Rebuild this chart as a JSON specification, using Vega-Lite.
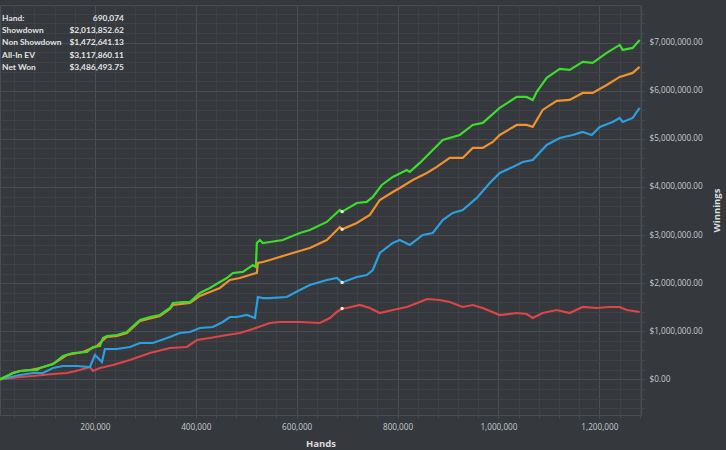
{
  "$schema": "https://vega.github.io/schema/vega-lite/v6.json",
  "width": 641,
  "height": 410,
  "autosize": "none",
  "padding": {"left": 0, "top": 5, "right": 85, "bottom": 35},
  "background": "#35383c",
  "config": {"view": {"stroke": "#4a4d51", "strokeWidth": 1}, "font": "Open Sans"},
  "datasets": {
    "curves": [
      {"series":"Non Showdown","hands":12000,"won":0},{"series":"Non Showdown","hands":51500,"won":48000},{"series":"Non Showdown","hands":77300,"won":69000},{"series":"Non Showdown","hands":116900,"won":110000},{"series":"Non Showdown","hands":144600,"won":131000},{"series":"Non Showdown","hands":170400,"won":193000},{"series":"Non Showdown","hands":190200,"won":256000},{"series":"Non Showdown","hands":196200,"won":173000},{"series":"Non Showdown","hands":210000,"won":235000},{"series":"Non Showdown","hands":235800,"won":297000},{"series":"Non Showdown","hands":269500,"won":401000},{"series":"Non Showdown","hands":309100,"won":547000},{"series":"Non Showdown","hands":348700,"won":651000},{"series":"Non Showdown","hands":382400,"won":672000},{"series":"Non Showdown","hands":402200,"won":817000},{"series":"Non Showdown","hands":428000,"won":859000},{"series":"Non Showdown","hands":461700,"won":921000},{"series":"Non Showdown","hands":487400,"won":963000},{"series":"Non Showdown","hands":513200,"won":1046000},{"series":"Non Showdown","hands":546900,"won":1171000},{"series":"Non Showdown","hands":566700,"won":1192000},{"series":"Non Showdown","hands":606300,"won":1192000},{"series":"Non Showdown","hands":645900,"won":1171000},{"series":"Non Showdown","hands":665800,"won":1275000},{"series":"Non Showdown","hands":679600,"won":1400000},{"series":"Non Showdown","hands":690074,"won":1472641},{"series":"Non Showdown","hands":699400,"won":1483000},{"series":"Non Showdown","hands":725200,"won":1545000},{"series":"Non Showdown","hands":745000,"won":1483000},{"series":"Non Showdown","hands":764800,"won":1379000},{"series":"Non Showdown","hands":790600,"won":1441000},{"series":"Non Showdown","hands":818300,"won":1504000},{"series":"Non Showdown","hands":844100,"won":1607000},{"series":"Non Showdown","hands":858000,"won":1670000},{"series":"Non Showdown","hands":883700,"won":1649000},{"series":"Non Showdown","hands":903500,"won":1607000},{"series":"Non Showdown","hands":929200,"won":1504000},{"series":"Non Showdown","hands":949000,"won":1545000},{"series":"Non Showdown","hands":968900,"won":1483000},{"series":"Non Showdown","hands":1002600,"won":1337000},{"series":"Non Showdown","hands":1036300,"won":1379000},{"series":"Non Showdown","hands":1056100,"won":1358000},{"series":"Non Showdown","hands":1068000,"won":1275000},{"series":"Non Showdown","hands":1087800,"won":1379000},{"series":"Non Showdown","hands":1115500,"won":1441000},{"series":"Non Showdown","hands":1141300,"won":1379000},{"series":"Non Showdown","hands":1167000,"won":1504000},{"series":"Non Showdown","hands":1194700,"won":1483000},{"series":"Non Showdown","hands":1220500,"won":1504000},{"series":"Non Showdown","hands":1240400,"won":1504000},{"series":"Non Showdown","hands":1254200,"won":1441000},{"series":"Non Showdown","hands":1280000,"won":1400000},

      {"series":"Showdown","hands":12000,"won":0},{"series":"Showdown","hands":51500,"won":89000},{"series":"Showdown","hands":77300,"won":131000},{"series":"Showdown","hands":97100,"won":131000},{"series":"Showdown","hands":116900,"won":235000},{"series":"Showdown","hands":136700,"won":277000},{"series":"Showdown","hands":164500,"won":277000},{"series":"Showdown","hands":190200,"won":256000},{"series":"Showdown","hands":200100,"won":505000},{"series":"Showdown","hands":214000,"won":360000},{"series":"Showdown","hands":219900,"won":630000},{"series":"Showdown","hands":243700,"won":630000},{"series":"Showdown","hands":269500,"won":672000},{"series":"Showdown","hands":289300,"won":755000},{"series":"Showdown","hands":315000,"won":755000},{"series":"Showdown","hands":348700,"won":880000},{"series":"Showdown","hands":368500,"won":963000},{"series":"Showdown","hands":388400,"won":984000},{"series":"Showdown","hands":408200,"won":1067000},{"series":"Showdown","hands":433900,"won":1088000},{"series":"Showdown","hands":453700,"won":1192000},{"series":"Showdown","hands":467600,"won":1296000},{"series":"Showdown","hands":481500,"won":1296000},{"series":"Showdown","hands":501300,"won":1337000},{"series":"Showdown","hands":517200,"won":1275000},{"series":"Showdown","hands":523100,"won":1711000},{"series":"Showdown","hands":533000,"won":1690000},{"series":"Showdown","hands":546900,"won":1690000},{"series":"Showdown","hands":580500,"won":1711000},{"series":"Showdown","hands":606300,"won":1857000},{"series":"Showdown","hands":626100,"won":1961000},{"series":"Showdown","hands":659800,"won":2065000},{"series":"Showdown","hands":679600,"won":2107000},{"series":"Showdown","hands":690074,"won":2013853},{"series":"Showdown","hands":719200,"won":2128000},{"series":"Showdown","hands":739000,"won":2169000},{"series":"Showdown","hands":751000,"won":2273000},{"series":"Showdown","hands":764800,"won":2627000},{"series":"Showdown","hands":790600,"won":2835000},{"series":"Showdown","hands":804400,"won":2897000},{"series":"Showdown","hands":824300,"won":2793000},{"series":"Showdown","hands":850000,"won":3001000},{"series":"Showdown","hands":869800,"won":3043000},{"series":"Showdown","hands":889600,"won":3313000},{"series":"Showdown","hands":909400,"won":3459000},{"series":"Showdown","hands":929200,"won":3521000},{"series":"Showdown","hands":957000,"won":3771000},{"series":"Showdown","hands":982800,"won":4083000},{"series":"Showdown","hands":1002600,"won":4291000},{"series":"Showdown","hands":1028400,"won":4416000},{"series":"Showdown","hands":1048200,"won":4520000},{"series":"Showdown","hands":1068000,"won":4561000},{"series":"Showdown","hands":1095700,"won":4873000},{"series":"Showdown","hands":1121500,"won":5019000},{"series":"Showdown","hands":1147200,"won":5081000},{"series":"Showdown","hands":1167000,"won":5144000},{"series":"Showdown","hands":1184900,"won":5081000},{"series":"Showdown","hands":1200700,"won":5248000},{"series":"Showdown","hands":1226500,"won":5352000},{"series":"Showdown","hands":1240400,"won":5435000},{"series":"Showdown","hands":1246300,"won":5352000},{"series":"Showdown","hands":1266100,"won":5435000},{"series":"Showdown","hands":1280000,"won":5643000},

      {"series":"All-In EV","hands":12000,"won":0},{"series":"All-In EV","hands":25800,"won":69000},{"series":"All-In EV","hands":37600,"won":131000},{"series":"All-In EV","hands":51500,"won":173000},{"series":"All-In EV","hands":71300,"won":193000},{"series":"All-In EV","hands":91100,"won":235000},{"series":"All-In EV","hands":116900,"won":318000},{"series":"All-In EV","hands":144600,"won":505000},{"series":"All-In EV","hands":176300,"won":568000},{"series":"All-In EV","hands":204100,"won":693000},{"series":"All-In EV","hands":216000,"won":817000},{"series":"All-In EV","hands":223900,"won":880000},{"series":"All-In EV","hands":243700,"won":900000},{"series":"All-In EV","hands":263500,"won":963000},{"series":"All-In EV","hands":289300,"won":1212000},{"series":"All-In EV","hands":328900,"won":1316000},{"series":"All-In EV","hands":348700,"won":1462000},{"series":"All-In EV","hands":354700,"won":1545000},{"series":"All-In EV","hands":388400,"won":1587000},{"series":"All-In EV","hands":408200,"won":1733000},{"series":"All-In EV","hands":428000,"won":1815000},{"series":"All-In EV","hands":447800,"won":1899000},{"series":"All-In EV","hands":467600,"won":2065000},{"series":"All-In EV","hands":487400,"won":2107000},{"series":"All-In EV","hands":513200,"won":2190000},{"series":"All-In EV","hands":521100,"won":2211000},{"series":"All-In EV","hands":523100,"won":2419000},{"series":"All-In EV","hands":533000,"won":2440000},{"series":"All-In EV","hands":546900,"won":2481000},{"series":"All-In EV","hands":592400,"won":2627000},{"series":"All-In EV","hands":626100,"won":2731000},{"series":"All-In EV","hands":659800,"won":2897000},{"series":"All-In EV","hands":685600,"won":3167000},{"series":"All-In EV","hands":690074,"won":3117860},{"series":"All-In EV","hands":719200,"won":3251000},{"series":"All-In EV","hands":745000,"won":3417000},{"series":"All-In EV","hands":764800,"won":3729000},{"series":"All-In EV","hands":790600,"won":3896000},{"series":"All-In EV","hands":804400,"won":3979000},{"series":"All-In EV","hands":830200,"won":4145000},{"series":"All-In EV","hands":858000,"won":4291000},{"series":"All-In EV","hands":877700,"won":4416000},{"series":"All-In EV","hands":903500,"won":4603000},{"series":"All-In EV","hands":929200,"won":4603000},{"series":"All-In EV","hands":949000,"won":4811000},{"series":"All-In EV","hands":968900,"won":4811000},{"series":"All-In EV","hands":988700,"won":4936000},{"series":"All-In EV","hands":1002600,"won":5081000},{"series":"All-In EV","hands":1036300,"won":5289000},{"series":"All-In EV","hands":1056100,"won":5289000},{"series":"All-In EV","hands":1068000,"won":5248000},{"series":"All-In EV","hands":1087800,"won":5601000},{"series":"All-In EV","hands":1115500,"won":5789000},{"series":"All-In EV","hands":1141300,"won":5809000},{"series":"All-In EV","hands":1167000,"won":5955000},{"series":"All-In EV","hands":1186800,"won":5955000},{"series":"All-In EV","hands":1214600,"won":6121000},{"series":"All-In EV","hands":1240400,"won":6288000},{"series":"All-In EV","hands":1266100,"won":6371000},{"series":"All-In EV","hands":1280000,"won":6496000},

      {"series":"Net Won","hands":12000,"won":0},{"series":"Net Won","hands":25800,"won":69000},{"series":"Net Won","hands":37600,"won":131000},{"series":"Net Won","hands":51500,"won":173000},{"series":"Net Won","hands":71300,"won":193000},{"series":"Net Won","hands":85200,"won":193000},{"series":"Net Won","hands":91100,"won":235000},{"series":"Net Won","hands":116900,"won":318000},{"series":"Net Won","hands":136700,"won":484000},{"series":"Net Won","hands":156500,"won":547000},{"series":"Net Won","hands":184300,"won":568000},{"series":"Net Won","hands":196200,"won":672000},{"series":"Net Won","hands":210000,"won":693000},{"series":"Net Won","hands":216000,"won":859000},{"series":"Net Won","hands":223900,"won":900000},{"series":"Net Won","hands":243700,"won":921000},{"series":"Net Won","hands":263500,"won":984000},{"series":"Net Won","hands":269500,"won":1046000},{"series":"Net Won","hands":289300,"won":1233000},{"series":"Net Won","hands":309100,"won":1296000},{"series":"Net Won","hands":328900,"won":1337000},{"series":"Net Won","hands":348700,"won":1483000},{"series":"Net Won","hands":354700,"won":1587000},{"series":"Net Won","hands":374500,"won":1607000},{"series":"Net Won","hands":388400,"won":1607000},{"series":"Net Won","hands":408200,"won":1795000},{"series":"Net Won","hands":428000,"won":1899000},{"series":"Net Won","hands":447800,"won":2024000},{"series":"Net Won","hands":461700,"won":2107000},{"series":"Net Won","hands":473600,"won":2211000},{"series":"Net Won","hands":493400,"won":2232000},{"series":"Net Won","hands":513200,"won":2377000},{"series":"Net Won","hands":519100,"won":2336000},{"series":"Net Won","hands":521100,"won":2835000},{"series":"Net Won","hands":527100,"won":2897000},{"series":"Net Won","hands":533000,"won":2835000},{"series":"Net Won","hands":546900,"won":2855000},{"series":"Net Won","hands":572600,"won":2897000},{"series":"Net Won","hands":606300,"won":3043000},{"series":"Net Won","hands":626100,"won":3105000},{"series":"Net Won","hands":659800,"won":3272000},{"series":"Net Won","hands":685600,"won":3521000},{"series":"Net Won","hands":690074,"won":3486494},{"series":"Net Won","hands":719200,"won":3667000},{"series":"Net Won","hands":739000,"won":3688000},{"series":"Net Won","hands":751000,"won":3792000},{"series":"Net Won","hands":768800,"won":4041000},{"series":"Net Won","hands":790600,"won":4208000},{"series":"Net Won","hands":818300,"won":4353000},{"series":"Net Won","hands":824300,"won":4312000},{"series":"Net Won","hands":844100,"won":4499000},{"series":"Net Won","hands":863900,"won":4707000},{"series":"Net Won","hands":889600,"won":4977000},{"series":"Net Won","hands":923300,"won":5081000},{"series":"Net Won","hands":949000,"won":5289000},{"series":"Net Won","hands":968900,"won":5331000},{"series":"Net Won","hands":1002600,"won":5643000},{"series":"Net Won","hands":1036300,"won":5872000},{"series":"Net Won","hands":1056100,"won":5872000},{"series":"Net Won","hands":1068000,"won":5809000},{"series":"Net Won","hands":1075900,"won":5976000},{"series":"Net Won","hands":1095700,"won":6267000},{"series":"Net Won","hands":1121500,"won":6454000},{"series":"Net Won","hands":1141300,"won":6433000},{"series":"Net Won","hands":1167000,"won":6600000},{"series":"Net Won","hands":1186800,"won":6579000},{"series":"Net Won","hands":1214600,"won":6787000},{"series":"Net Won","hands":1240400,"won":6953000},{"series":"Net Won","hands":1246300,"won":6849000},{"series":"Net Won","hands":1266100,"won":6891000},{"series":"Net Won","hands":1280000,"won":7057000}
    ],
    "hover": [
      {"series":"Net Won","hands":690074,"won":3486493.75},
      {"series":"All-In EV","hands":690074,"won":3117860.11},
      {"series":"Showdown","hands":690074,"won":2013852.62},
      {"series":"Non Showdown","hands":690074,"won":1472641.13}
    ],
    "tip": [
      {"column":"label","lines":["Hand:","Showdown","Non Showdown","All-In EV","Net Won"]},
      {"column":"value","lines":["690,074","$2,013,852.62","$1,472,641.13","$3,117,860.11","$3,486,493.75"]}
    ]
  },
  "layer": [
    {
      "data": {"name": "curves"},
      "mark": {"type": "line", "strokeWidth": 2.2, "clip": true},
      "encoding": {
        "x": {"field": "hands", "type": "quantitative",
          "scale": {"domain": [11900, 1282600], "nice": false, "zero": false},
          "axis": {"orient": "bottom", "title": null, "labels": false, "domain": false, "ticks": true, "tickSize": 3, "tickColor": "#46494d",
            "grid": true, "gridColor": "#3e4145", "gridWidth": 1,
            "values": [40000,80000,120000,160000,200000,240000,280000,320000,360000,400000,440000,480000,520000,560000,600000,640000,680000,720000,760000,800000,840000,880000,920000,960000,1000000,1040000,1080000,1120000,1160000,1200000,1240000,1280000]}},
        "y": {"field": "won", "type": "quantitative",
          "scale": {"domain": [-742000, 7783000], "nice": false, "zero": false},
          "axis": {"orient": "right", "title": null, "labels": false, "domain": false, "ticks": true, "tickSize": 3, "tickColor": "#46494d",
            "grid": true, "gridColor": "#3e4145", "gridWidth": 1,
            "values": [-600000,-400000,-200000,0,200000,400000,600000,800000,1000000,1200000,1400000,1600000,1800000,2000000,2200000,2400000,2600000,2800000,3000000,3200000,3400000,3600000,3800000,4000000,4200000,4400000,4600000,4800000,5000000,5200000,5400000,5600000,5800000,6000000,6200000,6400000,6600000,6800000,7000000,7200000,7400000,7600000]}},
        "color": {"field": "series", "type": "nominal",
          "scale": {"domain": ["Net Won", "All-In EV", "Showdown", "Non Showdown"], "range": ["#3ddc2e", "#f0922e", "#2c9fe0", "#dc4549"]},
          "legend": null}
      }
    },
    {
      "mark": {"type": "rule", "color": "#e6e6e6", "strokeWidth": 3},
      "encoding": {"y": {"datum": 0, "type": "quantitative", "axis": null}}
    },
    {
      "data": {"name": "hover"},
      "mark": {"type": "point", "filled": true, "size": 12, "color": "#f4ead6", "opacity": 1},
      "encoding": {
        "x": {"field": "hands", "type": "quantitative",
          "axis": {"orient": "bottom", "title": "Hands", "format": ",d", "values": [200000,400000,600000,800000,1000000,1200000],
            "labelColor": "#c9cbcd", "labelFontSize": 8.2, "labelPadding": 5, "domain": false, "ticks": true, "tickSize": 3, "tickColor": "#4a4d51",
            "grid": true, "gridColor": "#4a4d51", "gridWidth": 1,
            "titleColor": "#dcdcdc", "titleFontSize": 9.5, "titleFontWeight": "bold", "titlePadding": 8.5}},
        "y": {"field": "won", "type": "quantitative",
          "axis": {"orient": "right", "title": "Winnings", "titleAngle": 270, "format": "$,.2f", "values": [0,1000000,2000000,3000000,4000000,5000000,6000000,7000000],
            "labelColor": "#c9cbcd", "labelFontSize": 8.2, "labelPadding": 5, "domain": false, "ticks": true, "tickSize": 3, "tickColor": "#4a4d51",
            "grid": true, "gridColor": "#4a4d51", "gridWidth": 1,
            "titleColor": "#dcdcdc", "titleFontSize": 9.5, "titleFontWeight": "bold", "titlePadding": 19}}
      }
    },
    {
      "mark": {"type": "rect", "color": "#212224", "opacity": 0.93},
      "encoding": {
        "x": {"datum": 11900, "type": "quantitative", "axis": null},
        "x2": {"datum": 265500},
        "y": {"datum": 7830000, "type": "quantitative", "axis": null},
        "y2": {"datum": 6390000}
      }
    },
    {
      "data": {"name": "tip"},
      "transform": [{"filter": "datum.column === 'label'"}],
      "mark": {"type": "text", "align": "left", "baseline": "top", "font": "Lato", "fontSize": 8.4, "fontWeight": "bold", "color": "#e2e2e2", "lineHeight": 12.25},
      "encoding": {
        "x": {"datum": 16000, "type": "quantitative", "axis": null},
        "y": {"datum": 7600000, "type": "quantitative", "axis": null},
        "text": {"field": "lines"}
      }
    },
    {
      "data": {"name": "tip"},
      "transform": [{"filter": "datum.column === 'value'"}],
      "mark": {"type": "text", "align": "right", "baseline": "top", "font": "Lato", "fontSize": 8.4, "fontWeight": "bold", "color": "#e2e2e2", "lineHeight": 12.25},
      "encoding": {
        "x": {"datum": 257600, "type": "quantitative", "axis": null},
        "y": {"datum": 7600000, "type": "quantitative", "axis": null},
        "text": {"field": "lines"}
      }
    }
  ],
  "resolve": {"axis": {"x": "independent", "y": "independent"}}
}
